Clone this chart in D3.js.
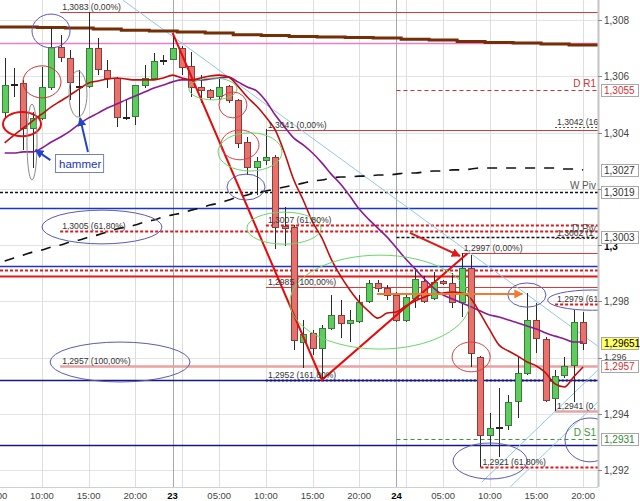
<!DOCTYPE html>
<html>
<head>
<meta charset="utf-8">
<script src="https://cdn.jsdelivr.net/npm/d3@7"></script>
<style>
  body { margin: 0; background: #fff; }
  svg { display: block; font-family: "Liberation Sans", Arial, sans-serif; }
</style>
</head>
<body>
<svg id="chart" width="640" height="501"></svg>
<script>
// ---- data (hours are counted from 23 00:00) ----
var hours = [-18,-17,-16,-15,-14,-13,-12,-11,-10,-9,-8,-7,-6,-5,-4,-3,-2,-1,0,1,2,3,4,5,6,7,8,9,10,11,12,13,14,15,16,17,18,19,20,21,22,23,24,25,26,27,28,29,30,31,32,33,34,35,36,37,38,39,40,41,42,43,44];

var opens = [1.30473,1.30572,1.30576,1.30416,1.30452,1.30562,1.30704,1.30665,1.30565,1.30565,
  1.30700,1.30622,1.30594,1.30455,1.30459,1.30569,1.30594,1.30658,1.30661,1.30700,
  1.30636,1.30562,1.30551,1.30530,1.30565,1.30516,1.30366,1.30277,1.30302,1.30313,
  1.30068,1.30064,1.29655,1.29687,1.29634,1.29705,1.29751,1.29723,1.29730,1.29801,
  1.29865,1.29847,1.29822,1.29733,1.29812,1.29872,1.29812,1.29872,1.29865,1.29797,
  1.29918,1.29602,1.29324,1.29353,1.29360,1.29445,1.29545,1.29733,1.29666,1.29456,
  1.29538,1.29573,1.29726];
var highs = [1.30665,1.30629,1.30587,1.30473,1.30633,1.30772,1.30747,1.30693,1.30622,1.30828,
  1.30736,1.30658,1.30597,1.30516,1.30569,1.30640,1.30683,1.30676,1.30754,1.30708,
  1.30686,1.30604,1.30555,1.30597,1.30569,1.30520,1.30384,1.30313,1.30412,1.30320,
  1.30135,1.30071,1.29733,1.29698,1.29716,1.29822,1.29804,1.29769,1.29822,1.29876,
  1.29876,1.29858,1.29833,1.29822,1.29918,1.29890,1.29904,1.29876,1.29900,1.29970,
  1.29964,1.29605,1.29403,1.29492,1.29467,1.29602,1.29829,1.29794,1.29673,1.29556,
  1.29602,1.29769,1.29762];
var lows = [1.30452,1.30526,1.30338,1.30274,1.30444,1.30551,1.30651,1.30516,1.30455,1.30558,
  1.30604,1.30558,1.30420,1.30444,1.30427,1.30558,1.30587,1.30640,1.30658,1.30604,
  1.30526,1.30505,1.30516,1.30516,1.30505,1.30345,1.30249,1.30178,1.30284,1.29986,
  1.29996,1.29627,1.29563,1.29609,1.29520,1.29698,1.29669,1.29655,1.29723,1.29794,
  1.29833,1.29804,1.29726,1.29726,1.29776,1.29794,1.29804,1.29858,1.29776,1.29744,
  1.29566,1.29210,1.29289,1.29246,1.29342,1.29385,1.29538,1.29616,1.29442,1.29410,
  1.29527,1.29442,1.29627];
var closes = [1.30569,1.30572,1.30416,1.30452,1.30562,1.30704,1.30668,1.30580,1.30565,1.30700,
  1.30626,1.30594,1.30455,1.30455,1.30569,1.30594,1.30654,1.30658,1.30700,1.30633,
  1.30562,1.30551,1.30526,1.30562,1.30516,1.30363,1.30277,1.30299,1.30313,1.30064,
  1.30060,1.29662,1.29684,1.29634,1.29705,1.29751,1.29723,1.29733,1.29797,1.29865,
  1.29847,1.29822,1.29733,1.29815,1.29879,1.29801,1.29868,1.29865,1.29797,1.29918,
  1.29616,1.29324,1.29349,1.29353,1.29442,1.29545,1.29733,1.29669,1.29449,1.29534,
  1.29570,1.29726,1.29651];

// moving averages, one value per candle
var maRed = [1.30363,1.30391,1.30416,1.30441,1.30466,1.30491,1.30512,1.30533,1.30555,1.30576,
  1.30583,1.30590,1.30594,1.30590,1.30587,1.30587,1.30587,1.30594,1.30604,1.30594,
  1.30587,1.30594,1.30601,1.30604,1.30597,1.30565,1.30526,1.30494,1.30455,1.30409,
  1.30327,1.30231,1.30160,1.30082,1.30025,1.29950,1.29890,1.29840,1.29797,1.29765,
  1.29740,1.29758,1.29762,1.29783,1.29801,1.29815,1.29826,1.29829,1.29833,1.29829,
  1.29808,1.29755,1.29698,1.29644,1.29623,1.29605,1.29584,1.29570,1.29545,1.29506,
  1.29495,1.29531,1.29566];
var maPurple = [1.30327,1.30327,1.30331,1.30331,1.30345,1.30366,1.30384,1.30405,1.30430,1.30452,
  1.30469,1.30487,1.30501,1.30516,1.30530,1.30544,1.30558,1.30569,1.30580,1.30587,
  1.30587,1.30587,1.30590,1.30594,1.30597,1.30580,1.30562,1.30548,1.30512,1.30462,
  1.30420,1.30380,1.30356,1.30327,1.30292,1.30252,1.30217,1.30174,1.30128,1.30092,
  1.30060,1.30028,1.29989,1.29950,1.29915,1.29879,1.29847,1.29822,1.29808,1.29794,
  1.29780,1.29765,1.29751,1.29744,1.29733,1.29723,1.29712,1.29701,1.29687,1.29676,
  1.29666,1.29655,1.29655];
var maDashed = [1.29943,1.29954,1.29964,1.29975,1.29982,1.29993,1.30000,1.30011,1.30018,1.30028,
  1.30036,1.30046,1.30057,1.30064,1.30071,1.30082,1.30089,1.30100,1.30107,1.30114,
  1.30124,1.30132,1.30142,1.30149,1.30160,1.30171,1.30178,1.30188,1.30192,1.30199,
  1.30206,1.30213,1.30220,1.30228,1.30231,1.30238,1.30242,1.30242,1.30245,1.30245,
  1.30249,1.30249,1.30252,1.30256,1.30256,1.30260,1.30263,1.30263,1.30267,1.30267,
  1.30270,1.30274,1.30274,1.30274,1.30274,1.30274,1.30274,1.30274,1.30274,1.30274,
  1.30270,1.30270,1.30267];

// slow MA drawn in steps
var brownHours = [-18.5,-14.5,-11.5,-8.5,-5.5,-2.5,0.5,3.5,6.5,9.5,12.5,15.5,18.5,21.5,24.5,27.5,30.5,33.5,36.5,39.5,42.5,45.6];
var brownValues = [1.30775,1.30773,1.30772,1.30768,1.30764,1.30761,1.30757,1.30754,1.30748,1.30745,1.30741,1.30740,1.30738,1.30736,1.30732,1.30729,1.30724,1.30720,1.30718,1.30715,1.30711,1.30711];

// fibonacci levels (labels as far as they show before the price axis)
var fibPrices = [1.3083, 1.3041, 1.3042, 1.3007, 1.3005, 1.30025, 1.2997, 1.2985, 1.2979, 1.2957, 1.2952, 1.2941, 1.2921];
var fibStarts = [-12.05, 10, 41, 10, -12.05, 41, 31, 10, 41, -12.05, 10, 41, 33];
var fibLabels = ["1,3083 (0,00%)", "1,3041 (0,00%)", "1,3042 (16", "1,3007 (61,80%)", "1,3005 (61,80%)",
  "1,3002 (1", "1,2997 (0,00%)", "1,2985 (100,00%)", "1,2979 (61", "1,2957 (100,00%)",
  "1,2952 (161,80%)", "1,2941 (0,", "1,2921 (61,80%)"];

// pivots
var pivotPrices = [1.3055, 1.3019, 1.3003, 1.2931];
var pivotStarts = [24, -18.5, 24, 24];
var pivotNames = ["D R1", "W Piv", "D Piv", "D S1"];

// plain horizontal lines
var bluePrices = [1.3013, 1.29925];
var navyPrices = [1.2952, 1.2929];
var redSolidPrices = [1.2989];
var redDotPrices = [1.2991];
var pinkPrices = [1.3072];

// zigzag
var zigHours = [0, 16, 31.6];
var zigPrices = [1.30754, 1.2952, 1.2997];

// axis
var priceTicks = [1.292, 1.294, 1.296, 1.298, 1.300, 1.302, 1.304, 1.306, 1.308];
var priceTickLabels = ["1,292", "1,294", "1,296", "1,298", "1,3", "1,302", "1,304", "1,306", "1,308"];
var gridHours = [-19, -14, -9, -4, 1, 5, 10, 15, 20, 25, 29, 34, 39, 44];
var dayHours = [0, 24];
var timeTickHours = [-19, -14, -9, -4, 0, 5, 10, 15, 20, 24, 29, 34, 39, 44];
var timeTickLabels = ["05:00", "10:00", "15:00", "20:00", "23", "05:00", "10:00", "15:00", "20:00", "24", "05:00", "10:00", "15:00", "20:00"];
var markerPrices = [1.3055, 1.30267, 1.3019, 1.3003, 1.29651, 1.2957, 1.2931];
var markerTexts = ["1,3055", "1,3027", "1,3019", "1,3003", "1,29651", "1,2957", "1,2931"];

// ---- chart ----
var plotW = 598, plotH = 487;
var svg = d3.select("#chart");
var x = d3.scaleLinear().domain([-18.5, 45.6]).range([0, plotW]);
var y = d3.scaleLinear().domain([1.292, 1.308]).range([470, 20]);
var px = function (h) { return Math.round(x(h)); };
var py = function (p) { return Math.round(y(p)); };

var defs = svg.append("defs");
defs.append("clipPath").attr("id", "plot")
  .append("rect").attr("x", 0).attr("y", 0).attr("width", plotW).attr("height", plotH);

function arrowHead(id, color) {
  defs.append("marker").attr("id", id)
    .attr("viewBox", "0 0 10 10").attr("refX", 9).attr("refY", 5)
    .attr("markerWidth", 9).attr("markerHeight", 9)
    .attr("markerUnits", "userSpaceOnUse").attr("orient", "auto")
    .append("path").attr("d", "M0,0L10,5L0,10z").attr("fill", color);
}
arrowHead("ahBlue", "#2244cc");
arrowHead("ahRed", "#e01818");
arrowHead("ahOrange", "#f07a30");

svg.append("rect").attr("width", 640).attr("height", 501).attr("fill", "#fff");

var g = svg.append("g").attr("clip-path", "url(#plot)");

// grid
g.selectAll(".hgrid").data(priceTicks).enter().append("line")
  .attr("x1", 0).attr("x2", plotW)
  .attr("y1", function (d) { return py(d) + 0.5; }).attr("y2", function (d) { return py(d) + 0.5; })
  .attr("stroke", "#e4e4e4");
g.selectAll(".vgrid").data(gridHours).enter().append("line")
  .attr("x1", function (d) { return px(d) + 0.5; }).attr("x2", function (d) { return px(d) + 0.5; })
  .attr("y1", 0).attr("y2", plotH).attr("stroke", "#dedede");
g.selectAll(".day").data(dayHours).enter().append("line")
  .attr("x1", function (d) { return px(d) + 0.5; }).attr("x2", function (d) { return px(d) + 0.5; })
  .attr("y1", 0).attr("y2", plotH).attr("stroke", "#a8a8a8");

// horizontal lines
function hLines(prices, color, width, dash) {
  g.selectAll(null).data(prices).enter().append("line")
    .attr("x1", 0).attr("x2", plotW)
    .attr("y1", function (d) { return py(d) + 0.5; }).attr("y2", function (d) { return py(d) + 0.5; })
    .attr("stroke", color).attr("stroke-width", width)
    .attr("stroke-dasharray", dash || null);
}
hLines(pinkPrices, "#ea7cc8", 1.5);
hLines(bluePrices, "#1836c8", 1.5);
hLines(navyPrices, "#14188a", 1.5);
hLines(redDotPrices, "#e21c1c", 2, "3,2");
hLines(redSolidPrices, "#e21c1c", 2);

// pivots
var pivotColor = ["#d43030", "#111", "#111", "#3a963a"];
var pivotDash = ["4,3", "3,2", "3,2", "4,3"];
pivotPrices.forEach(function (p, i) {
  g.append("line")
    .attr("x1", x(pivotStarts[i])).attr("x2", plotW)
    .attr("y1", py(p) + 0.5).attr("y2", py(p) + 0.5)
    .attr("stroke", pivotColor[i]).attr("stroke-width", i === 1 || i === 2 ? 1.5 : 1)
    .attr("stroke-dasharray", pivotDash[i]);
});

// fib levels
var fibStyle = ["thin", "thin", "dark", "dot", "dot", "dark", "thin", "thin", "dot", "pink", "navy", "pink", "dot"];
var fibStroke = { thin: "#d83a3a", dot: "#e01818", dark: "#6b4a3a", pink: "#e8a2a2", navy: "#14188a" };
var fibWidth = { thin: 1, dot: 2, dark: 1, pink: 2.5, navy: 2 };
var fibDash = { thin: null, dot: "3,2", dark: "2,2", pink: null, navy: "2,2" };
fibPrices.forEach(function (p, i) {
  var s = fibStyle[i];
  g.append("line")
    .attr("x1", x(fibStarts[i])).attr("x2", plotW)
    .attr("y1", py(p) + 0.5).attr("y2", py(p) + 0.5)
    .attr("stroke", fibStroke[s]).attr("stroke-width", fibWidth[s])
    .attr("stroke-dasharray", fibDash[s]);
});

// light blue trend lines
var trends = [
  { h: [-5.3, 45.6], p: [1.3087, 1.2964] },
  { h: [33.15, 45.6], p: [1.29157, 1.29556] },
  { h: [36.2, 45.6], p: [1.2914, 1.29442] }
];
trends.forEach(function (t) {
  g.append("line")
    .attr("x1", x(t.h[0])).attr("y1", y(t.p[0]))
    .attr("x2", x(t.h[1])).attr("y2", y(t.p[1]))
    .attr("stroke", "#92c8ea").attr("stroke-width", 1);
});

// slow stepped MA
var brownLine = d3.line()
  .x(function (d, i) { return x(brownHours[i]); })
  .y(function (d) { return y(d); })
  .curve(d3.curveStepAfter);
g.append("path").attr("d", brownLine(brownValues))
  .attr("fill", "none").attr("stroke", "#762e06").attr("stroke-width", 3);

// dashed MA
var maLine = d3.line()
  .x(function (d, i) { return x(hours[i]); })
  .y(function (d) { return y(d); })
  .curve(d3.curveMonotoneX);
g.append("path").attr("d", maLine(maDashed))
  .attr("fill", "none").attr("stroke", "#111").attr("stroke-width", 1.6)
  .attr("stroke-dasharray", "10,9");

// candles
var candles = hours.map(function (h, i) {
  return { h: h, o: opens[i], hi: highs[i], lo: lows[i], c: closes[i] };
});
var cg = g.selectAll(".candle").data(candles).enter().append("g");
cg.append("line")
  .attr("x1", function (d) { return px(d.h) + 0.5; }).attr("x2", function (d) { return px(d.h) + 0.5; })
  .attr("y1", function (d) { return py(d.hi); }).attr("y2", function (d) { return py(d.lo); })
  .attr("stroke", "#2a2a2a");
cg.append("rect")
  .attr("x", function (d) { return px(d.h) - 2.5; })
  .attr("y", function (d) { return py(Math.max(d.o, d.c)) + 0.5; })
  .attr("width", 6)
  .attr("height", function (d) { return Math.max(1, py(Math.min(d.o, d.c)) - py(Math.max(d.o, d.c))); })
  .attr("fill", function (d) { return d.c > d.o ? "#5ccc5c" : d.c < d.o ? "#e8716c" : "#222"; })
  .attr("stroke", function (d) { return d.c > d.o ? "#3b7b3b" : d.c < d.o ? "#8d3b3b" : "#222"; });

// faster MAs
g.append("path").attr("d", maLine(maPurple))
  .attr("fill", "none").attr("stroke", "#8a1a96").attr("stroke-width", 1.6);
g.append("path").attr("d", maLine(maRed))
  .attr("fill", "none").attr("stroke", "#c40c0c").attr("stroke-width", 1.6);

// zigzag
g.append("path")
  .attr("d", d3.line().x(function (d, i) { return x(zigHours[i]); }).y(function (d) { return y(d); })(zigPrices))
  .attr("fill", "none").attr("stroke", "#e60a0a").attr("stroke-width", 2);

// ellipses (centre hour, centre price, radius in hours, radius in price)
var ellipses = [
  [-13.03, 1.30761, 2.04, 0.0006, "#5a5ab4", 1],
  [-14.0, 1.30580, 2.04, 0.00057, "#c83434", 1],
  [-16.14, 1.30430, 2.04, 0.00043, "#e01010", 2],
  [-15.07, 1.30366, 0.54, 0.00135, "#8a8a8a", 1],
  [-10.14, 1.30537, 0.96, 0.00082, "#8a8a8a", 1],
  [4.33, 1.30555, 2.57, 0.00039, "#66d866", 1],
  [6.47, 1.30498, 1.5, 0.00046, "#d44444", 1],
  [7.22, 1.30356, 2.04, 0.00053, "#d44444", 1],
  [8.3, 1.30331, 3.43, 0.00068, "#66d866", 1],
  [7.87, 1.30206, 2.04, 0.00046, "#5a5ab4", 1],
  [11.94, 1.30060, 3.97, 0.00057, "#66d866", 1],
  [22.23, 1.29797, 9.65, 0.00167, "#66d866", 1],
  [-7.57, 1.30064, 6.43, 0.0006, "#5a5ab4", 1],
  [-5.63, 1.29584, 7.5, 0.00071, "#5a5ab4", 1],
  [32.0, 1.29602, 2.04, 0.00053, "#d44444", 1],
  [34.03, 1.29232, 3.97, 0.00064, "#5a5ab4", 1],
  [44.74, 1.29307, 2.68, 0.00078, "#5a5ab4", 1],
  [37.98, 1.29822, 2.04, 0.00043, "#5a5ab4", 1],
  [45.0, 1.29804, 4.8, 0.00036, "#5a5ab4", 1]
];
g.selectAll(".ell").data(ellipses).enter().append("ellipse")
  .attr("cx", function (d) { return x(d[0]); })
  .attr("cy", function (d) { return y(d[1]); })
  .attr("rx", function (d) { return x(d[0] + d[2]) - x(d[0]); })
  .attr("ry", function (d) { return y(d[1]) - y(d[1] + d[3]); })
  .attr("fill", "none")
  .attr("stroke", function (d) { return d[4]; })
  .attr("stroke-width", function (d) { return d[5]; });

// arrows
var arrows = [
  [-13.1, 1.30302, -14.7, 1.30338, "#2244cc", "ahBlue"],
  [-9.07, 1.30331, -9.92, 1.30452, "#2244cc", "ahBlue"],
  [25.44, 1.30043, 30.8, 1.29961, "#e01818", "ahRed"],
  [21.9, 1.29826, 37.5, 1.29826, "#f07a30", "ahOrange"]
];
arrows.forEach(function (a) {
  g.append("line")
    .attr("x1", x(a[0])).attr("y1", y(a[1]))
    .attr("x2", x(a[2])).attr("y2", y(a[3]))
    .attr("stroke", a[4]).attr("stroke-width", 2)
    .attr("marker-end", "url(#" + a[5] + ")");
});

// fib labels
fibPrices.forEach(function (p, i) {
  g.append("text")
    .attr("x", x(fibStarts[i]) + 2).attr("y", py(p) - 2)
    .attr("font-size", 8.6).attr("fill", "#333")
    .text(fibLabels[i]);
});

// pivot names
pivotPrices.forEach(function (p, i) {
  g.append("text")
    .attr("x", 596).attr("y", py(p) - (i === 2 ? 5 : 3))
    .attr("text-anchor", "end").attr("font-size", 10)
    .attr("fill", i === 0 ? "#d43030" : i === 3 ? "#3a963a" : "#555")
    .text(pivotNames[i]);
});

// hammer box
var hb = { h0: -12.6, h1: -7.45, pTop: 1.30324, pBottom: 1.3026 };
g.append("rect")
  .attr("x", x(hb.h0) + 0.5).attr("y", py(hb.pTop) + 0.5)
  .attr("width", x(hb.h1) - x(hb.h0)).attr("height", py(hb.pBottom) - py(hb.pTop))
  .attr("fill", "#fff").attr("stroke", "#7482b8");
g.append("text")
  .attr("x", x(hb.h0) + 4).attr("y", py(1.30274))
  .attr("font-size", 11.5).attr("fill", "#2233bb")
  .text("hammer");

// axis frame
svg.append("line").attr("x1", plotW + 0.5).attr("x2", plotW + 0.5).attr("y1", 0).attr("y2", plotH)
  .attr("stroke", "#c4c4c4").attr("stroke-width", 2);
svg.append("line").attr("x1", 0).attr("x2", plotW).attr("y1", plotH + 0.5).attr("y2", plotH + 0.5)
  .attr("stroke", "#d0d0d0");

// price axis; a tick label sitting under a value box is not drawn
svg.selectAll(".pt").data(priceTicks).enter().append("line")
  .attr("x1", plotW).attr("x2", plotW + 4)
  .attr("y1", function (d) { return py(d) + 0.5; }).attr("y2", function (d) { return py(d) + 0.5; })
  .attr("stroke", "#888");
var visibleTicks = priceTicks.filter(function (t) {
  return !markerPrices.some(function (m) { return Math.abs(py(m) - py(t)) < 8; });
});
function tickText(d) { return priceTickLabels[priceTicks.indexOf(d)]; }
svg.selectAll(".pl").data(visibleTicks).enter().append("text")
  .attr("x", 604).attr("y", function (d) { return py(d) + (tickText(d) === "1,3" ? 5 : tickText(d) === "1,296" ? 2 : 4); })
  .attr("font-size", function (d) { return tickText(d) === "1,296" ? 9 : 10; })
  .attr("font-weight", function (d) { return tickText(d) === "1,3" ? "bold" : null; })
  .attr("fill", function (d) { return tickText(d) === "1,3" ? "#000" : "#444"; })
  .text(tickText);

var markerFill = ["#fff", "#fff", "#fff", "#fff", "#ffff66", "#fff", "#fff"];
var markerColor = ["#d43030", "#333", "#333", "#333", "#000", "#d43030", "#2f8a2f"];
markerPrices.forEach(function (p, i) {
  svg.append("rect")
    .attr("x", 601.5).attr("y", py(p) - 5.5)
    .attr("width", 37).attr("height", 12)
    .attr("fill", markerFill[i]).attr("stroke", "#a8a8a8");
  svg.append("text")
    .attr("x", 604).attr("y", py(p) + 4)
    .attr("font-size", 10).attr("fill", markerColor[i])
    .text(markerTexts[i]);
});

// time axis
svg.selectAll(".tl").data(timeTickHours).enter().append("text")
  .attr("x", function (d) { return x(d); }).attr("y", 499)
  .attr("text-anchor", "middle").attr("font-size", 9.5)
  .attr("font-weight", function (d, i) { return timeTickLabels[i].length === 2 ? "bold" : null; })
  .attr("fill", function (d, i) { return timeTickLabels[i].length === 2 ? "#000" : "#444"; })
  .text(function (d, i) { return timeTickLabels[i]; });
</script>
</body>
</html>
